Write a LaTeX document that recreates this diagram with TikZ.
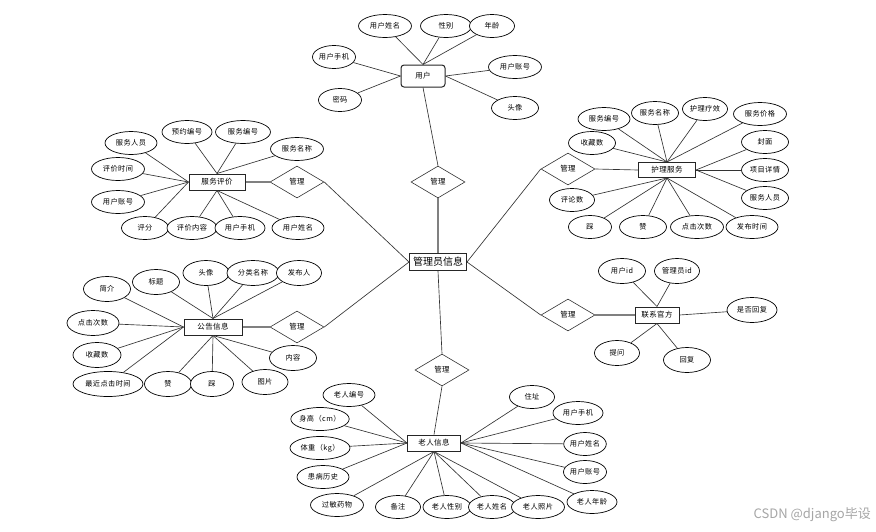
\documentclass[tikz,border=0pt]{standalone}
\usepackage{fontspec}
\setmainfont{Noto Sans CJK SC}[LetterSpace=6]
\usetikzlibrary{shapes.geometric}
\begin{document}
\begin{tikzpicture}[x=1pt,y=-1pt,
 attr/.style={ellipse,draw=black,line width=0.7pt,fill=white,minimum height=23pt,inner sep=0pt,font=\fontsize{7.2}{8}\selectfont},
 ent/.style={rectangle,draw=black!85,line width=1pt,fill=white,minimum height=16pt,inner sep=0pt,font=\fontsize{7.5}{8}\selectfont},
 rel/.style={diamond,draw=black!80,line width=0.6pt,fill=white,minimum width=54pt,minimum height=32pt,inner sep=0pt,font=\fontsize{7.5}{8}\selectfont},
 ln/.style={draw=black!80,line width=0.65pt},
 rl/.style={draw=black!50,line width=1.3pt}]
\useasboundingbox (0,0) rectangle (876,531);
\fill[white] (0,0) rectangle (876,531);

% central entity and relations
\node[ent,minimum width=57pt,minimum height=17pt,font=\fontsize{10}{11}\selectfont] (c) at (438,262) {\addfontfeatures{LetterSpace=0}管理员信息};
\node[rel] (rT) at (438,182) {管理};
\node[rel] (rUL) at (297,182) {管理};
\node[rel] (rLL) at (297,327) {管理};
\node[rel] (rB) at (442,370) {管理};
\node[rel] (rUR) at (568,169) {管理};
\node[rel] (rLR) at (568,315) {管理};

% entities
\node[ent,rounded corners=3pt,minimum width=44pt,minimum height=22pt] (user) at (423,76) {用户};
\node[ent,minimum width=56pt] (sp) at (217,182) {服务评价};
\node[ent,minimum width=57pt,minimum height=15pt] (hl) at (667,170) {护理服务};
\node[ent,minimum width=58pt] (gg) at (213,327) {公告信息};
\node[ent,minimum width=44pt] (lx) at (657,315) {联系官方};
\node[ent,minimum width=53pt] (old) at (434,443) {老人信息};

% relation links
\draw[rl] (c.north) -- (rT.south);
\draw[ln] (rT.north) -- (user.south);
\draw[ln] (rUL.east) -- (c.west);
\draw[rl] (rUL.west) -- (sp.east);
\draw[ln] (rLL.east) -- (c.west);
\draw[rl] (rLL.west) -- (gg.east);
\draw[ln] (rB.north) -- (c.south);
\draw[ln] (rB.south) -- (old.north);
\draw[ln] (rUR.west) -- (c.east);
\draw[ln] (rUR.east) -- (hl.west);
\draw[ln] (rLR.west) -- (c.east);
\draw[rl] (rLR.east) -- (lx.west);

% 用户 attributes
\node[attr,minimum width=53pt] (u1) at (385,26) {用户姓名};
\node[attr,minimum width=51pt] (u2) at (446,26) {性别};
\node[attr,minimum width=45pt] (u3) at (492,26) {年龄};
\node[attr,minimum width=43pt] (u4) at (334,57) {用户手机};
\node[attr,minimum width=53pt] (u5) at (515,67) {用户账号};
\node[attr,minimum width=43pt] (u6) at (340,100) {密码};
\node[attr,minimum width=47pt] (u7) at (515,108) {头像};
\foreach \n in {u1,u2,u3} \draw[ln] (\n) -- (user.north);
\foreach \n in {u4,u6} \draw[ln] (\n) -- (user.west);
\foreach \n in {u5,u7} \draw[ln] (\n) -- (user.east);

% 服务评价 attributes
\node[attr,minimum width=52pt] (s1) at (131,143) {服务人员};
\node[attr,minimum width=50pt] (s2) at (187,132) {预约编号};
\node[attr,minimum width=55pt] (s3) at (243,132) {服务编号};
\node[attr,minimum width=53pt] (s4) at (297,149) {服务名称};
\node[attr,minimum width=53pt] (s5) at (118,169) {评价时间};
\node[attr,minimum width=53pt] (s6) at (118,202) {用户账号};
\node[attr,minimum width=47pt] (s7) at (145,228) {评分};
\node[attr,minimum width=50pt] (s8) at (192,228) {评价内容};
\node[attr,minimum width=50pt] (s9) at (240,228) {用户手机};
\node[attr,minimum width=52pt] (s10) at (298,228) {用户姓名};
\foreach \n in {s1,s5,s6,s7} \draw[ln] (\n) -- (sp.west);
\foreach \n in {s2,s3,s4} \draw[ln] (\n) -- (sp.north);
\foreach \n in {s8,s9,s10} \draw[ln] (\n) -- (sp.south);

% 护理服务 attributes
\node[attr,minimum width=52pt] (h1) at (604,119) {服务编号};
\node[attr,minimum width=47pt] (h2) at (655,113) {服务名称};
\node[attr,minimum width=45pt] (h3) at (705,109) {护理疗效};
\node[attr,minimum width=53pt] (h4) at (760,114) {服务价格};
\node[attr,minimum width=47pt] (h5) at (592,143) {收藏数};
\node[attr,minimum width=47pt] (h6) at (765,142) {封面};
\node[attr,minimum width=47pt] (h7) at (765,170) {项目详情};
\node[attr,minimum width=47pt] (h8) at (765,198) {服务人员};
\node[attr,minimum width=45pt] (h9) at (572,200) {评论数};
\node[attr,minimum width=43pt] (h10) at (590,227) {踩};
\node[attr,minimum width=47pt] (h11) at (643,227) {赞};
\node[attr,minimum width=53pt] (h12) at (697,227) {点击次数};
\node[attr,minimum width=52pt] (h13) at (752,227) {发布时间};
\foreach \n in {h1,h2,h3,h4,h5} \draw[ln] (\n) -- (hl.north);
\foreach \n in {h6,h7,h8} \draw[ln] (\n) -- (hl.east);
\foreach \n in {h9,h10,h11,h12,h13} \draw[ln] (\n) -- (hl.south);

% 公告信息 attributes
\node[attr,minimum width=47pt,minimum height=25pt] (g1) at (107,289) {简介};
\node[attr,minimum width=47pt,minimum height=25pt] (g2) at (156,282) {标题};
\node[attr,minimum width=46pt,minimum height=25pt] (g3) at (206,273) {头像};
\node[attr,minimum width=52pt,minimum height=25pt] (g4) at (253,273) {分类名称};
\node[attr,minimum width=45pt,minimum height=25pt] (g5) at (299,273) {发布人};
\node[attr,minimum width=52pt,minimum height=25pt] (g6) at (93,323) {点击次数};
\node[attr,minimum width=48pt,minimum height=25pt] (g7) at (97,355) {收藏数};
\node[attr,minimum width=70pt,minimum height=25pt] (g8) at (108,384) {最近点击时间};
\node[attr,minimum width=47pt,minimum height=25pt] (g9) at (168,384) {赞};
\node[attr,minimum width=43pt,minimum height=25pt] (g10) at (212,384) {踩};
\node[attr,minimum width=46pt,minimum height=25pt] (g11) at (265,382) {图片};
\node[attr,minimum width=47pt,minimum height=25pt] (g12) at (293,358) {内容};
\foreach \n in {g1,g6,g7,g8} \draw[ln] (\n) -- (gg.west);
\foreach \n in {g2,g3,g4,g5} \draw[ln] (\n) -- (gg.north);
\foreach \n in {g9,g10,g11,g12} \draw[ln] (\n) -- (gg.south);

% 联系官方 attributes
\node[attr,minimum width=47pt,minimum height=25pt] (l1) at (622,271) {用户id};
\node[attr,minimum width=45pt,minimum height=25pt] (l2) at (677,271) {管理员id};
\node[attr,minimum width=50pt,minimum height=25pt] (l3) at (752,310) {是否回复};
\node[attr,minimum width=45pt,minimum height=25pt] (l4) at (617,353) {提问};
\node[attr,minimum width=47pt,minimum height=25pt] (l5) at (687,360) {回复};
\foreach \n in {l1,l2} \draw[ln] (\n) -- (lx.north);
\draw[ln] (l3) -- (lx.east);
\foreach \n in {l4,l5} \draw[ln] (\n) -- (lx.south);

% 老人信息 attributes
\node[attr,minimum width=52pt] (o1) at (349,395) {老人编号};
\node[attr,minimum width=55pt] (o2) at (320,419) {身高（cm）};
\node[attr,minimum width=60pt] (o3) at (320,448) {体重（kg）};
\node[attr,minimum width=52pt] (o4) at (323,477) {患病历史};
\node[attr,minimum width=53pt] (o5) at (337,505) {过敏药物};
\node[attr,minimum width=45pt] (o6) at (398,507) {备注};
\node[attr,minimum width=48pt] (o7) at (447,507) {老人性别};
\node[attr,minimum width=47pt] (o8) at (492,507) {老人姓名};
\node[attr,minimum width=53pt] (o9) at (538,507) {老人照片};
\node[attr,minimum width=45pt] (o10) at (532,397) {住址};
\node[attr,minimum width=50pt] (o11) at (578,413) {用户手机};
\node[attr,minimum width=42pt] (o12) at (585,444) {用户姓名};
\node[attr,minimum width=43pt] (o13) at (585,472) {用户账号};
\node[attr,minimum width=50pt] (o14) at (592,502) {老人年龄};
\foreach \n in {o1,o2,o3,o4} \draw[ln] (\n) -- (old.west);
\foreach \n in {o5,o6,o7,o8,o9} \draw[ln] (\n) -- (old.south);
\foreach \n in {o10,o11,o12,o13,o14} \draw[ln] (\n) -- (old.east);

% watermark
\node[anchor=east,text=black!35,font=\fontsize{13}{14}\selectfont,inner sep=0pt] (wm) at (871,515) {\addfontfeatures{LetterSpace=0}CSDN @django毕设};
\end{tikzpicture}
\end{document}
